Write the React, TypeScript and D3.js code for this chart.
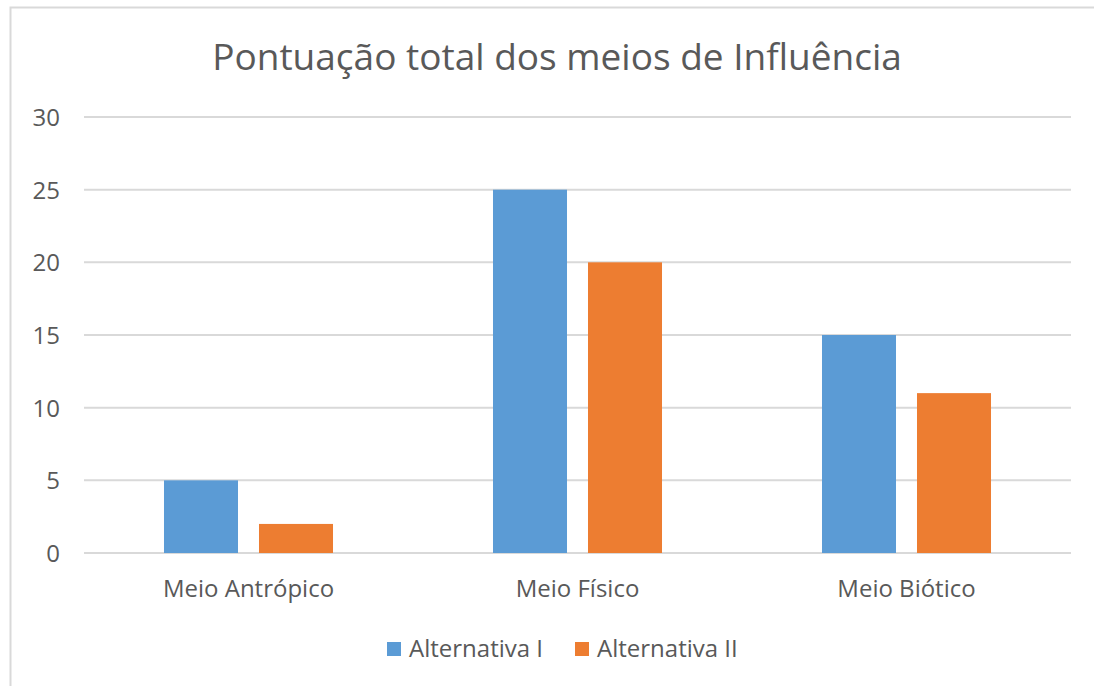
import React from "react";
import * as d3 from "d3";

const categories = ["Meio Antrópico", "Meio Físico", "Meio Biótico"];
const seriesNames = ["Alternativa I", "Alternativa II"];
const alternativaI = [5, 25, 15];
const alternativaII = [2, 20, 11];
const yTicks = [0, 5, 10, 15, 20, 25, 30];
const colors = ["#5B9BD5", "#ED7D31"];
const title = "Pontuação total dos meios de Influência";

export default function App() {
  const W = 1094, H = 686;
  const left = 84, right = 1071, top = 117, bottom = 553;
  const x = d3.scaleBand<string>().domain(categories).range([left, right]).paddingInner(0).paddingOuter(0);
  const inner = d3.scaleBand<string>().domain(seriesNames).range([0, x.bandwidth()]).paddingInner(0.221).paddingOuter(0.842);
  const y = d3.scaleLinear().domain([0, 30]).range([bottom, top]);
  const series = [alternativaI, alternativaII];
  const font = "'Open Sans', 'Noto Sans', sans-serif";
  return (
    <svg width={W} height={H} style={{ position: "absolute", left: 0, top: 0 }} fontFamily={font}>
      <rect x={0} y={0} width={W} height={H} fill="#fff" />
      <rect x={10.5} y={7.5} width={W + 10} height={H + 10} fill="none" stroke="#d9d9d9" strokeWidth={2} />
      <text x={557} y={70} textAnchor="middle" fontSize={37} fill="#595959">{title}</text>
      {yTicks.map((t) => (
        <g key={t}>
          <line x1={left} x2={right} y1={y(t)} y2={y(t)} stroke="#d9d9d9" strokeWidth={2} />
          <text x={60} y={y(t) + 9} textAnchor="end" fontSize={24} fill="#595959">{t}</text>
        </g>
      ))}
      {categories.map((c, i) => (
        <g key={c}>
          {series.map((s, j) => (
            <rect key={j} x={(x(c) as number) + (inner(seriesNames[j]) as number)} y={y(s[i])}
              width={inner.bandwidth()} height={y(0) - y(s[i])} fill={colors[j]} />
          ))}
          <text x={(x(c) as number) + x.bandwidth() / 2} y={597} textAnchor="middle" fontSize={24} fill="#595959">{c}</text>
        </g>
      ))}
      {seriesNames.map((n, j) => {
        const lx = [387, 575][j];
        return (
          <g key={n}>
            <rect x={lx} y={642} width={14} height={14} fill={colors[j]} />
            <text x={lx + 22} y={657} fontSize={24} fill="#595959">{n}</text>
          </g>
        );
      })}
    </svg>
  );
}
